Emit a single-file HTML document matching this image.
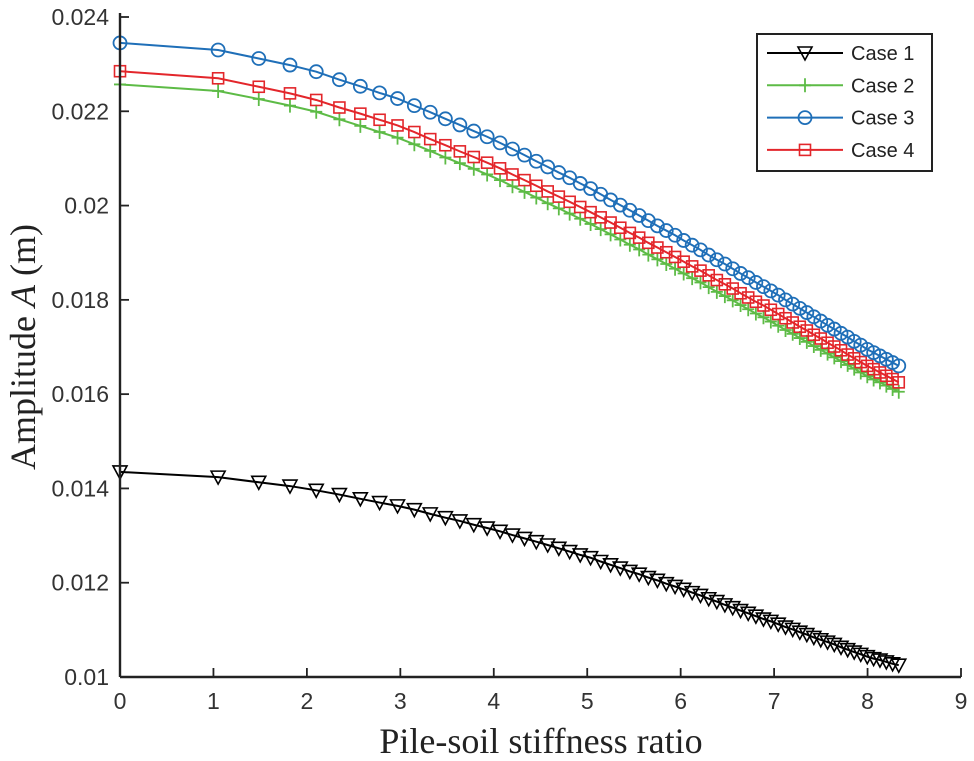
<!DOCTYPE html>
<html><head><meta charset="utf-8"><style>
body{margin:0;background:#fff}
svg{display:block;font-family:"Liberation Sans",sans-serif}
</style></head><body>
<svg id="chart" width="974" height="761" viewBox="0 0 974 761" xmlns="http://www.w3.org/2000/svg">
<g id="plot"></g>
<g id="axes"></g>
<text x="541" y="753" text-anchor="middle" font-family="Liberation Serif, serif" font-size="36" fill="#222">Pile-soil stiffness ratio</text>
<text transform="translate(35,347) rotate(-90)" text-anchor="middle" font-family="Liberation Serif, serif" font-size="36" fill="#222">Amplitude <tspan font-style="italic">A</tspan> (m)</text>
<g id="legend"></g>
</svg>
<script>
const xTicks=[0,1,2,3,4,5,6,7,8,9];
const yTicks=[0.01,0.012,0.014,0.016,0.018,0.02,0.022,0.024];
const yTickLabels=["0.01","0.012","0.014","0.016","0.018","0.02","0.022","0.024"];
const xValues=[0,1.05,1.485,1.819,2.1,2.348,2.572,2.778,2.970,3.15,3.320,3.482,3.637,3.786,3.929,4.067,4.2,4.329,4.455,4.577,4.696,4.812,4.925,5.036,5.144,5.25,5.354,5.456,5.556,5.654,5.751,5.846,5.940,6.032,6.123,6.212,6.3,6.387,6.473,6.557,6.641,6.723,6.805,6.886,6.965,7.044,7.122,7.199,7.275,7.35,7.425,7.499,7.572,7.644,7.716,7.787,7.857,7.927,7.997,8.065,8.133,8.201,8.268,8.334];
const case1=[0.01435,0.01424,0.01413,0.01405,0.01396,0.01387,0.01378,0.01370,0.01363,0.01355,0.01346,0.01338,0.01331,0.01323,0.01316,0.01309,0.01301,0.01294,0.01287,0.01280,0.01273,0.01266,0.01259,0.01253,0.01245,0.01238,0.01231,0.01224,0.01218,0.01211,0.01205,0.01198,0.01192,0.01186,0.01179,0.01173,0.01166,0.01160,0.01153,0.01147,0.01141,0.01135,0.01129,0.01123,0.01118,0.01112,0.01106,0.01101,0.01095,0.01090,0.01084,0.01079,0.01074,0.01069,0.01063,0.01058,0.01053,0.01048,0.01043,0.01039,0.01036,0.01032,0.01028,0.01025];
const case2=[0.02257,0.02243,0.02226,0.02212,0.02199,0.02183,0.02169,0.02156,0.02144,0.02130,0.02116,0.02102,0.02090,0.02078,0.02066,0.02054,0.02041,0.02029,0.02017,0.02005,0.01994,0.01983,0.01972,0.01961,0.01950,0.01939,0.01928,0.01917,0.01907,0.01896,0.01886,0.01876,0.01866,0.01856,0.01846,0.01837,0.01827,0.01817,0.01808,0.01799,0.01789,0.01780,0.01771,0.01763,0.01754,0.01745,0.01736,0.01728,0.01719,0.01711,0.01702,0.01694,0.01686,0.01678,0.01670,0.01662,0.01654,0.01646,0.01638,0.01631,0.01625,0.01618,0.01611,0.01605];
const case3=[0.02345,0.02330,0.02312,0.02298,0.02284,0.02267,0.02253,0.02239,0.02227,0.02212,0.02198,0.02184,0.02171,0.02158,0.02146,0.02133,0.02120,0.02107,0.02094,0.02082,0.02070,0.02059,0.02047,0.02036,0.02024,0.02012,0.02001,0.01990,0.01979,0.01968,0.01957,0.01947,0.01937,0.01926,0.01916,0.01906,0.01895,0.01885,0.01876,0.01866,0.01856,0.01847,0.01837,0.01828,0.01819,0.01810,0.01800,0.01791,0.01782,0.01773,0.01764,0.01755,0.01746,0.01738,0.01729,0.01721,0.01712,0.01704,0.01695,0.01688,0.01681,0.01674,0.01667,0.01660];
const case4=[0.02285,0.02270,0.02252,0.02238,0.02224,0.02208,0.02195,0.02182,0.02170,0.02156,0.02141,0.02128,0.02115,0.02103,0.02091,0.02079,0.02066,0.02054,0.02042,0.02030,0.02019,0.02008,0.01997,0.01986,0.01975,0.01964,0.01953,0.01942,0.01932,0.01921,0.01911,0.01901,0.01891,0.01881,0.01871,0.01862,0.01852,0.01842,0.01833,0.01824,0.01814,0.01805,0.01796,0.01788,0.01779,0.01770,0.01761,0.01752,0.01743,0.01735,0.01726,0.01718,0.01709,0.01701,0.01693,0.01684,0.01676,0.01668,0.01660,0.01653,0.01646,0.01639,0.01632,0.01625];
const seriesNames=["Case 1","Case 2","Case 3","Case 4"];

const NS="http://www.w3.org/2000/svg";
const X0=120,X1=961,Y0=677,Y1=17;
const xScale=v=>X0+(v-0)/(9-0)*(X1-X0);
const yScale=v=>Y0-(v-0.01)/(0.024-0.01)*(Y0-Y1);
function mk(tag,attrs,parent){const e=document.createElementNS(NS,tag);for(const k in attrs)e.setAttribute(k,attrs[k]);parent.appendChild(e);return e;}
const plot=document.getElementById('plot'),axes=document.getElementById('axes'),legend=document.getElementById('legend');
const styles=[{c:"#000",m:"tri"},{c:"#5dbb46",m:"plus"},{c:"#1f6fb8",m:"circ"},{c:"#e3262b",m:"sq"}];
function marker(type,x,y,c,g){
  let e;
  if(type==="tri"){e=mk('polygon',{points:`${x-7},${y-6} ${x+7},${y-6} ${x},${y+7}`,fill:"none",stroke:c,"stroke-width":1.6},g);}
  else if(type==="plus"){e=mk('path',{d:`M${x-6},${y}H${x+6}M${x},${y-7}V${y+7}`,stroke:c,"stroke-width":1.8,fill:"none"},g);}
  else if(type==="circ"){e=mk('circle',{cx:x,cy:y,r:6.5,fill:"none",stroke:c,"stroke-width":1.8},g);}
  else {e=mk('rect',{x:x-5.5,y:y-5.5,width:11,height:11,fill:"none",stroke:c,"stroke-width":1.6},g);}
  return e;
}
const allSeries=[case1,case2,case3,case4];
[1,3,2,0].forEach(si=>{
  const data=allSeries[si],st=styles[si];
  const g=mk('g',{},plot);
  
  
  const d=data.map((v,i)=>(i?'L':'M')+xScale(xValues[i]).toFixed(2)+','+yScale(v).toFixed(2)).join('');
  const p=mk('path',{d:d,fill:"none",stroke:st.c,"stroke-width":2},g);
  
  
  data.forEach((v,i)=>{
    const m=marker(st.m,xScale(xValues[i]),yScale(v),st.c,g);
    
    
  });
});
const xl=mk('line',{x1:X0,y1:Y0,x2:X1,y2:Y0,stroke:"#222","stroke-width":2.4},axes);


const yl=mk('line',{x1:X0,y1:Y0,x2:X0,y2:Y1-4,stroke:"#222","stroke-width":2.4},axes);


xTicks.forEach(t=>{
  const x=xScale(t);
  const tk=mk('line',{x1:x,y1:Y0,x2:x,y2:Y0-9,stroke:"#222","stroke-width":1.8},axes);
  
  
  const tx=mk('text',{x:x,y:Y0+32,"text-anchor":"middle","font-size":23,fill:"#333"},axes);
  tx.textContent=String(t);
  
  
});
yTicks.forEach((t,i)=>{
  const y=yScale(t);
  const tk=mk('line',{x1:X0,y1:y,x2:X0+9,y2:y,stroke:"#222","stroke-width":1.8},axes);
  
  
  const tx=mk('text',{x:X0-11,y:y+8,"text-anchor":"end","font-size":23,fill:"#333"},axes);
  tx.textContent=yTickLabels[i];
  
  
});
const box=mk('rect',{x:757,y:34,width:175,height:137,fill:"#fff",stroke:"#222","stroke-width":2},legend);


seriesNames.forEach((n,i)=>{
  const y=53+i*32.3,st=styles[i];
  const g=mk('g',{},legend);
  
  
  mk('line',{x1:767,y1:y,x2:843,y2:y,stroke:st.c,"stroke-width":2},g);
  marker(st.m,805,y,st.c,g);
  const t=mk('text',{x:851,y:y+7,"font-size":20,fill:"#222"},g);
  t.textContent=n;
});
</script>
</body></html>
